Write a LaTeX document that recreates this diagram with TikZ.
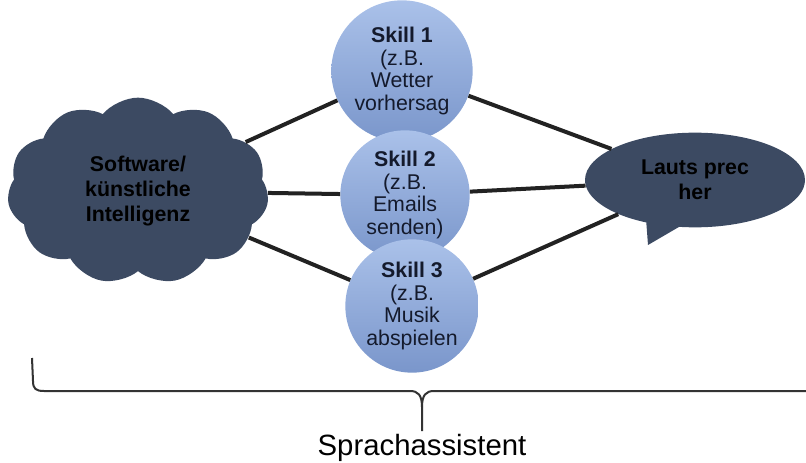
\documentclass[tikz,border=0pt]{standalone}
\usepackage{fontspec}
\setmainfont{Liberation Sans}
\usepackage{tikz}
\usetikzlibrary{shapes.symbols, shapes.callouts, calc}
\definecolor{darkslate}{HTML}{3C4A62}
\definecolor{skilltop}{HTML}{AAC1E9}
\definecolor{skillbottom}{HTML}{7A96CB}
\definecolor{skilltext}{HTML}{141A2C}
\definecolor{linkgray}{HTML}{222222}
\definecolor{bracegray}{HTML}{333333}
\tikzset{
  skillnode/.style={circle, top color=skilltop, bottom color=skillbottom, draw=none,
    text=skilltext, align=center, inner sep=0pt,
    font=\fontsize{16}{17}\selectfont},
  darknode/.style={fill=darkslate, draw=none, text=black, align=center,
    font=\fontsize{16}{18.5}\selectfont\bfseries},
  link/.style={draw=linkgray, line width=3pt}
}

\begin{document}
\begin{tikzpicture}[x=0.75pt, y=-0.75pt]
    \useasboundingbox (0,0) rectangle (806,463);

    % cloud on the left
    \node[darknode, cloud, cloud puffs=11, cloud puff arc=100, cloud ignores aspect,
      minimum width=196pt, minimum height=140pt] (ki) at (138,191)
      {Software/\\künstliche\\Intelligenz};

    % speech bubble on the right
    \node[darknode, ellipse callout, minimum width=165pt, minimum height=71pt,
      callout pointer arc=18, callout absolute pointer={(648,245)}] (lautsprecher) at (695,180)
      {Lauts prec\\her};

    % the three skills
    \node[skillnode, minimum size=106pt] (skilla) at (402,71)
      {\textbf{Skill 1}\\(z.B.\\Wetter\\vorhersag};
    \node[skillnode, minimum size=97pt] (skillb) at (405,195)
      {\textbf{Skill 2}\\(z.B.\\Emails\\senden)};
    \node[skillnode, minimum size=100pt] (skillc) at (412,306)
      {\textbf{Skill 3}\\(z.B.\\Musik\\abspielen};

    % connectors
    \draw[link] (ki) -- (skilla);
    \draw[link] (ki) -- (skillb);
    \draw[link] (ki) -- (skillc);
    \draw[link] (skilla) -- (lautsprecher);
    \draw[link] (skillb) -- (lautsprecher);
    \draw[link] (skillc) -- (lautsprecher);

    % brace under everything
    \coordinate (braceleft) at (32,358);
    \coordinate (bracetip) at (422,431);
    \coordinate (braceright) at (806,391);
    \draw[bracegray, line width=1.5pt, line join=round]
      (braceleft) -- (33,381) .. controls (33,389) and (36,391) .. (44,391)
      -- (410,391) .. controls (418,391) and (422,395) .. (422,407) -- (bracetip);
    \draw[bracegray, line width=1.5pt]
      (422,407) .. controls (422,395) and (426,391) .. (434,391) -- (braceright);
    \node[font=\fontsize{22}{24}\selectfont, anchor=north, inner sep=2pt] (assistent) at (bracetip)
      {Sprachassistent};
  \end{tikzpicture}
\end{document}
